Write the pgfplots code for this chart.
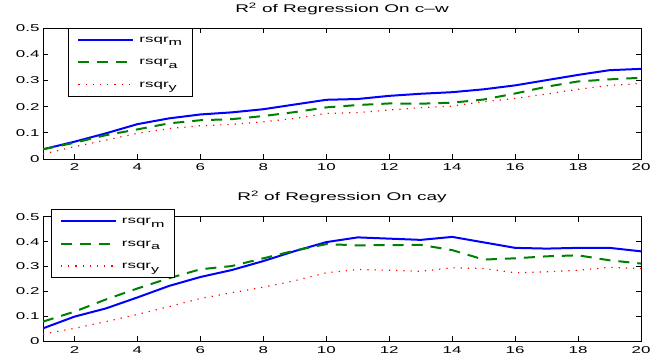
\documentclass[border=0pt]{standalone}
\usepackage{fontspec}
\setmainfont{Liberation Sans}[FakeStretch=1.7]
\usepackage{pgfplots}
\pgfplotsset{compat=1.18}
\definecolor{mgreen}{RGB}{0,128,0}
\definecolor{mblue}{RGB}{0,0,255}
\definecolor{mred}{RGB}{255,0,0}
\newcommand{\sub}[1]{\raisebox{-3.5bp}{\fontsize{9.5}{10}\selectfont #1}}
\pgfplotsset{
  mystyle/.style={
    scale only axis, width=598bp, xmin=1, xmax=20, ymin=0, ymax=0.5,
    xtick={2,4,6,8,10,12,14,16,18,20}, ytick={0,0.1,0.2,0.3,0.4,0.5},
    tick align=inside, major tick length=5bp,
    axis line style={line width=0.8bp},
    every tick/.style={black, line width=0.6bp},
    tick label style={font=\fontsize{10}{12}\selectfont},
    xticklabel style={yshift=-1.5bp},
    /pgf/number format/assume math mode=true,
    yticklabel style={/pgf/number format/fixed, /pgf/number format/precision=1},
    title style={font=\fontsize{11.2}{13}\selectfont, at={(0.5,1)}, anchor=base, yshift=10bp, inner sep=0pt},
    legend style={draw=black, fill=white, font=\fontsize{10}{12}\selectfont,
      inner xsep=9bp, inner ysep=5bp, row sep=9.5bp, column sep=4bp,
      nodes={inner xsep=1bp, inner ysep=0bp, text height=9bp, text depth=4bp}},
    legend image code/.code={\draw[##1] (0bp,0bp) -- (55bp,0bp);},
    legend cell align=left,
  },
  bl/.style={mblue, line width=2bp},
  gr/.style={mgreen, line width=2bp, dash pattern=on 11bp off 8bp},
  rd/.style={mred, line width=1.2bp, dash pattern=on 1.2bp off 6bp},
}
\begin{document}
\begin{tikzpicture}
\path[use as bounding box] (0,0) rectangle (652bp,363bp);
\begin{axis}[mystyle, at={(43bp,204bp)}, anchor=south west, height=131bp,
  title={R\textsuperscript{2} of Regression On c–w},
  legend style={at={(0.0423,1)}, anchor=north west}]
\addplot[bl] coordinates {(1,0.037)(2,0.066)(3,0.098)(4,0.133)(5,0.155)(6,0.170)(7,0.178)(8,0.190)(9,0.208)(10,0.226)(11,0.229)(12,0.241)(13,0.249)(14,0.255)(15,0.266)(16,0.281)(17,0.301)(18,0.321)(19,0.339)(20,0.344)};
\addplot[gr] coordinates {(1,0.037)(2,0.062)(3,0.091)(4,0.113)(5,0.136)(6,0.148)(7,0.152)(8,0.164)(9,0.179)(10,0.197)(11,0.206)(12,0.212)(13,0.211)(14,0.215)(15,0.227)(16,0.250)(17,0.276)(18,0.296)(19,0.304)(20,0.310)};
\addplot[rd] coordinates {(1,0.019)(2,0.047)(3,0.072)(4,0.098)(5,0.116)(6,0.127)(7,0.132)(8,0.142)(9,0.155)(10,0.174)(11,0.177)(12,0.187)(13,0.196)(14,0.202)(15,0.219)(16,0.231)(17,0.248)(18,0.266)(19,0.281)(20,0.288)};
\legend{rsqr\sub{m}, rsqr\sub{a}, rsqr\sub{y}}
\end{axis}
\begin{axis}[mystyle, at={(43bp,21.7bp)}, anchor=south west, height=124.6bp,
  title={R\textsuperscript{2} of Regression On cay},
  legend style={at={(0.0129,1.059)}, anchor=north west}]
\addplot[bl] coordinates {(1,0.052)(2,0.099)(3,0.132)(4,0.176)(5,0.222)(6,0.258)(7,0.286)(8,0.322)(9,0.362)(10,0.398)(11,0.417)(12,0.412)(13,0.407)(14,0.419)(15,0.397)(16,0.375)(17,0.372)(18,0.375)(19,0.375)(20,0.361)};
\addplot[gr] coordinates {(1,0.079)(2,0.119)(3,0.168)(4,0.212)(5,0.253)(6,0.289)(7,0.302)(8,0.333)(9,0.364)(10,0.390)(11,0.385)(12,0.386)(13,0.387)(14,0.366)(15,0.328)(16,0.333)(17,0.341)(18,0.345)(19,0.325)(20,0.312)};
\addplot[rd] coordinates {(1,0.029)(2,0.052)(3,0.079)(4,0.108)(5,0.139)(6,0.172)(7,0.195)(8,0.217)(9,0.243)(10,0.275)(11,0.288)(12,0.285)(13,0.281)(14,0.295)(15,0.292)(16,0.275)(17,0.279)(18,0.285)(19,0.297)(20,0.292)};
\legend{rsqr\sub{m}, rsqr\sub{a}, rsqr\sub{y}}
\end{axis}
\end{tikzpicture}
\end{document}
